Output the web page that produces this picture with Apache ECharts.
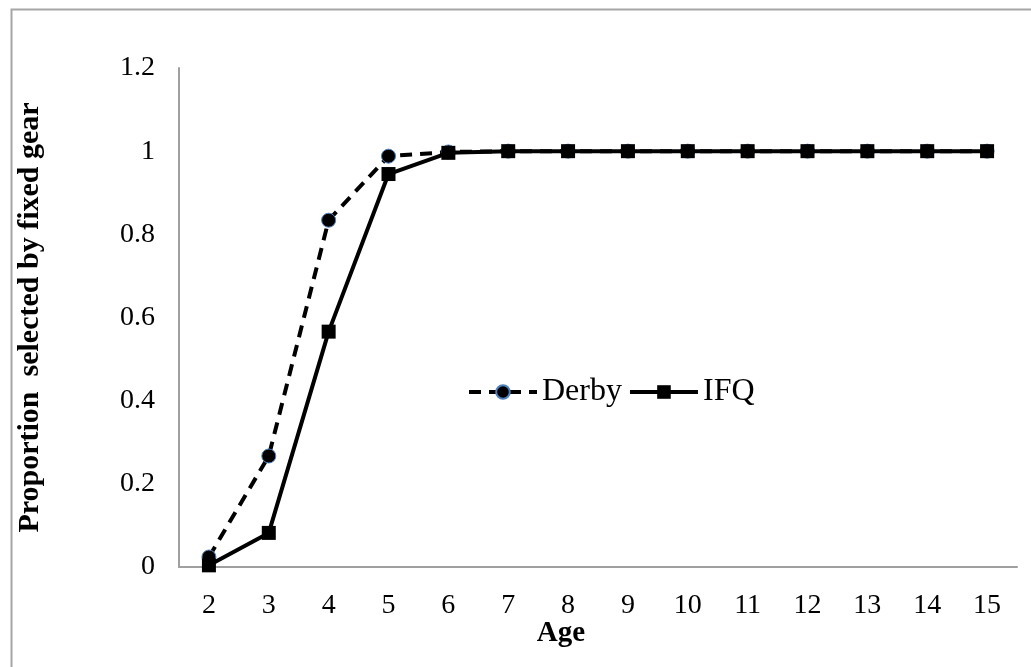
<!DOCTYPE html>
<html>
<head>
<meta charset="utf-8">
<script src="https://cdn.jsdelivr.net/npm/echarts@6/dist/echarts.min.js"></script>
<style>
  html, body { margin: 0; padding: 0; background: #fff; }
  #chart { width: 1031px; height: 667px; }
</style>
</head>
<body>
<div id="chart"></div>
<script>
// Age classes on the x axis
const ages = ['2', '3', '4', '5', '6', '7', '8', '9', '10', '11', '12', '13', '14', '15'];
// Proportion selected by fixed gear, per age
const derby = [0.024, 0.267, 0.834, 0.988, 0.998, 1, 1, 1, 1, 1, 1, 1, 1, 1];
const ifq = [0.004, 0.082, 0.566, 0.945, 0.996, 1, 1, 1, 1, 1, 1, 1, 1, 1];

const serif = '"Liberation Serif", "DejaVu Serif", serif';

const chart = echarts.init(document.getElementById('chart'));
chart.setOption({
  animation: false,
  backgroundColor: '#ffffff',
  graphic: [{
    type: 'rect',
    left: 9, top: 7,
    shape: { width: 1060, height: 700 },
    style: { fill: 'none', stroke: '#a6a6a6', lineWidth: 2 },
    silent: true
  }],
  grid: { left: 179, right: 14, top: 68, bottom: 100 },
  legend: {
    left: 462, top: 371,
    itemWidth: 68, itemHeight: 17, itemGap: 6,
    lineStyle: { width: 4 },
    textStyle: { fontFamily: serif, fontSize: 32, color: '#000' },
    data: ['Derby', 'IFQ']
  },
  xAxis: {
    type: 'category',
    data: ages,
    boundaryGap: true,
    name: 'Age',
    nameLocation: 'middle',
    nameGap: 52,
    nameMoveOverlap: false,
    nameTextStyle: {
      fontFamily: serif, fontSize: 29, fontWeight: 'bold', color: '#000',
      padding: [0, 74, 0, 0]
    },
    axisLine: { lineStyle: { color: '#a0a0a0', width: 2 } },
    axisTick: { show: false },
    axisLabel: { fontFamily: serif, fontSize: 28, color: '#000', margin: 25 },
    splitLine: { show: false }
  },
  yAxis: {
    type: 'value',
    min: 0, max: 1.2, interval: 0.2,
    name: 'Proportion  selected by fixed gear',
    nameLocation: 'middle',
    nameGap: 134,
    nameMoveOverlap: false,
    nameTextStyle: { fontFamily: serif, fontSize: 30, fontWeight: 'bold', color: '#000' },
    axisLine: { show: true, lineStyle: { color: '#a0a0a0', width: 2 } },
    axisTick: { show: false },
    axisLabel: { fontFamily: serif, fontSize: 28, color: '#000', margin: 24 },
    splitLine: { show: false }
  },
  series: [
    {
      name: 'Derby',
      type: 'line',
      data: derby,
      symbol: 'circle',
      symbolSize: 14,
      itemStyle: { color: '#000', borderColor: '#4f81bd', borderWidth: 1 },
      lineStyle: { color: '#000', width: 4, type: [12, 8] },
      z: 2
    },
    {
      name: 'IFQ',
      type: 'line',
      data: ifq,
      symbol: 'rect',
      symbolSize: 14,
      itemStyle: { color: '#000' },
      lineStyle: { color: '#000', width: 4, type: 'solid' },
      z: 3
    }
  ]
});
</script>
</body>
</html>
